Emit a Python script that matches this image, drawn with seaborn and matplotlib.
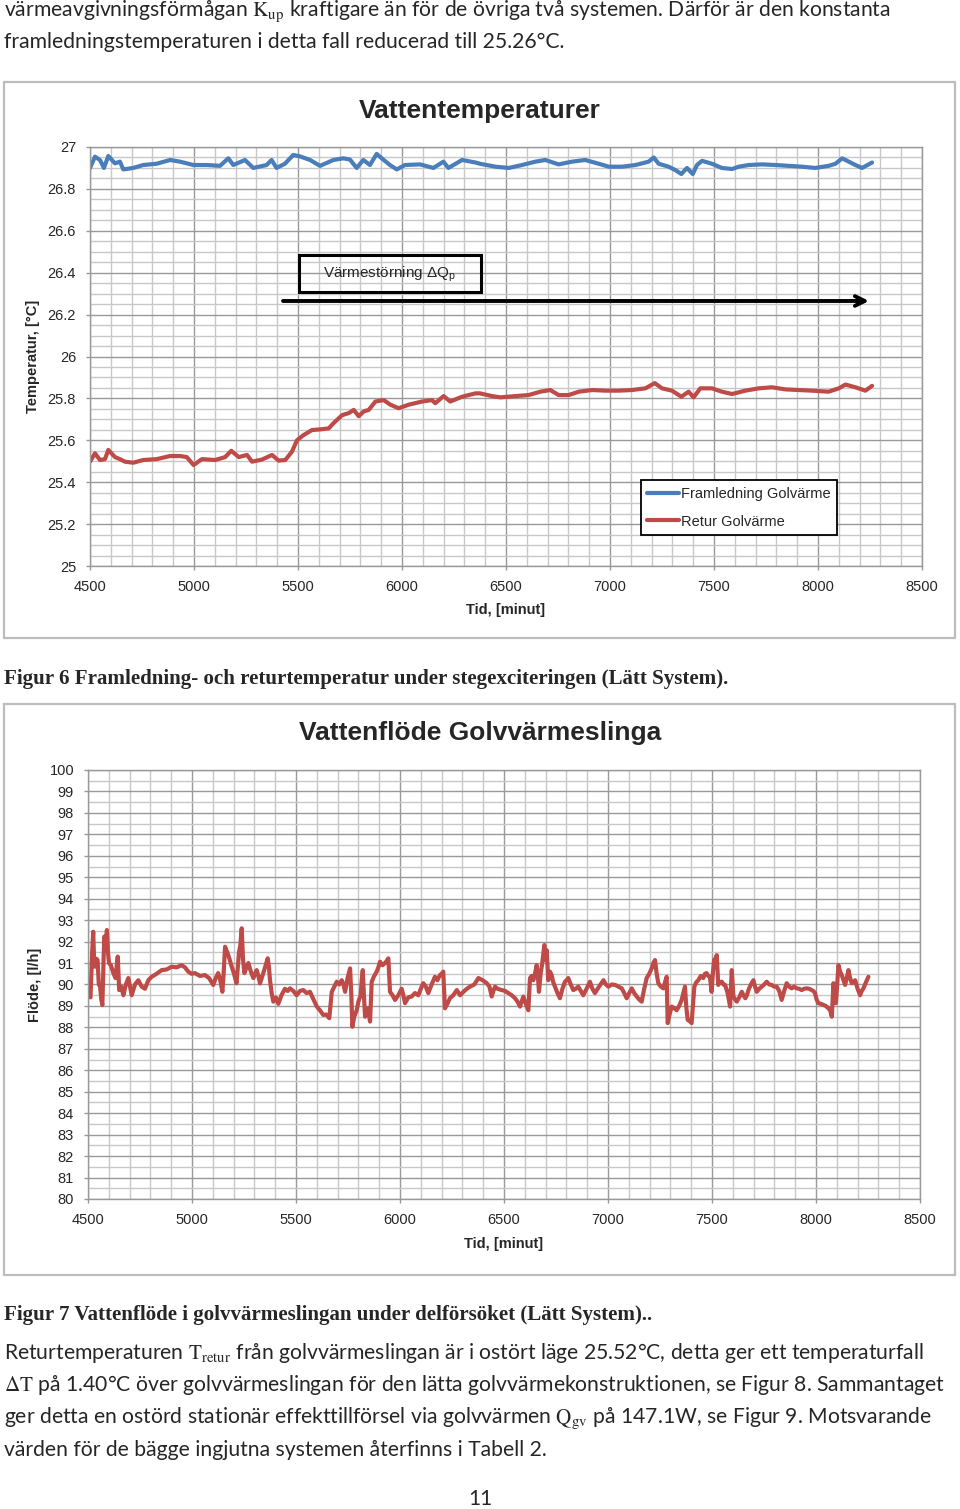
import pandas as pd
import matplotlib
matplotlib.use("Agg")
import matplotlib.pyplot as plt
import matplotlib.patches as patches
from matplotlib.ticker import MultipleLocator, FuncFormatter
import seaborn as sns

# Style
sns.set_style("white")
plt.rcParams['font.family'] = ['Liberation Sans', 'DejaVu Sans']
plt.rcParams['mathtext.fontset'] = 'stix'

# --- Data: Vattentemperaturer ---
supply_t = [4500, 4524, 4548, 4567, 4588, 4620, 4644, 4660, 4708, 4756, 4820, 4885,
            4933, 4997, 5061, 5125, 5165, 5189, 5245, 5285, 5349, 5373, 5397, 5437,
            5477, 5510, 5558, 5606, 5670, 5718, 5750, 5782, 5814, 5846, 5878, 5910,
            5942, 5975, 6014, 6087, 6151, 6199, 6223, 6289, 6353, 6375, 6449, 6513,
            6577, 6641, 6689, 6753, 6817, 6881, 6946, 6994, 7058, 7122, 7186, 7210,
            7234, 7282, 7314, 7343, 7370, 7398, 7418, 7443, 7490, 7538, 7587, 7619,
            7667, 7731, 7795, 7859, 7923, 7987, 8051, 8084, 8116, 8148, 8180, 8212, 8260]
supply_v = [26.90, 26.954, 26.938, 26.90, 26.957, 26.922, 26.93, 26.893, 26.90, 26.914,
            26.92, 26.938, 26.93, 26.914, 26.914, 26.91, 26.946, 26.914, 26.938, 26.90,
            26.914, 26.938, 26.90, 26.92, 26.962, 26.955, 26.938, 26.91, 26.938, 26.946,
            26.94, 26.90, 26.938, 26.914, 26.967, 26.94, 26.914, 26.893, 26.914, 26.917,
            26.90, 26.93, 26.90, 26.938, 26.926, 26.92, 26.906, 26.90, 26.914, 26.93,
            26.938, 26.917, 26.93, 26.938, 26.92, 26.906, 26.906, 26.914, 26.93, 26.95,
            26.92, 26.906, 26.89, 26.871, 26.90, 26.871, 26.914, 26.934, 26.92, 26.90,
            26.895, 26.906, 26.914, 26.917, 26.914, 26.91, 26.906, 26.90, 26.91, 26.92,
            26.946, 26.93, 26.914, 26.90, 26.926]

return_t = [4500, 4524, 4548, 4572, 4588, 4620, 4644, 4668, 4708, 4756, 4820, 4885,
            4933, 4965, 4998, 5038, 5102, 5150, 5179, 5215, 5255, 5279, 5327, 5375,
            5407, 5439, 5471, 5495, 5527, 5567, 5606, 5648, 5670, 5712, 5744, 5768,
            5792, 5816, 5840, 5872, 5912, 5944, 5984, 6032, 6096, 6144, 6160, 6200,
            6232, 6289, 6353, 6375, 6433, 6473, 6545, 6609, 6665, 6713, 6753, 6801,
            6850, 6914, 6978, 7042, 7106, 7170, 7215, 7250, 7298, 7343, 7378, 7402,
            7434, 7490, 7538, 7587, 7651, 7715, 7779, 7843, 7907, 7971, 8051, 8100,
            8132, 8180, 8228, 8260]
return_v = [25.498, 25.538, 25.506, 25.51, 25.554, 25.52, 25.51, 25.498, 25.493, 25.506,
            25.51, 25.525, 25.525, 25.52, 25.482, 25.51, 25.506, 25.52, 25.55, 25.52,
            25.53, 25.498, 25.508, 25.53, 25.503, 25.506, 25.546, 25.60, 25.625, 25.649,
            25.652, 25.657, 25.681, 25.72, 25.73, 25.745, 25.715, 25.738, 25.745, 25.785,
            25.792, 25.77, 25.753, 25.77, 25.785, 25.792, 25.777, 25.811, 25.785, 25.808,
            25.824, 25.824, 25.811, 25.805, 25.811, 25.816, 25.832, 25.84, 25.816, 25.816,
            25.832, 25.84, 25.837, 25.837, 25.84, 25.848, 25.873, 25.848, 25.837, 25.808,
            25.832, 25.805, 25.848, 25.848, 25.832, 25.821, 25.837, 25.848, 25.853, 25.843,
            25.84, 25.837, 25.832, 25.848, 25.866, 25.853, 25.837, 25.86]

temp_ticks = [25, 25.2, 25.4, 25.6, 25.8, 26, 26.2, 26.4, 26.6, 26.8, 27]
tid_ticks = [4500, 5000, 5500, 6000, 6500, 7000, 7500, 8000, 8500]

# --- Data: Vattenflöde Golvvärmeslinga ---
flow_t = [4505, 4512, 4520, 4525, 4530, 4533, 4540, 4546, 4552, 4558, 4564, 4569, 4574,
          4578, 4585, 4591, 4596, 4601, 4610, 4622, 4632, 4643, 4650, 4660, 4670, 4682,
          4694, 4702, 4710, 4726, 4742, 4758, 4774, 4790, 4806, 4830, 4854, 4878, 4902,
          4926, 4950, 4966, 4982, 4998, 5014, 5038, 5062, 5082, 5102, 5114, 5126, 5136,
          5146, 5152, 5159, 5165, 5170, 5180, 5191, 5202, 5214, 5220, 5226, 5232, 5239,
          5245, 5252, 5262, 5271, 5283, 5295, 5303, 5311, 5319, 5327, 5345, 5364, 5370,
          5375, 5383, 5391, 5403, 5415, 5430, 5447, 5460, 5471, 5487, 5503, 5519, 5535,
          5551, 5567, 5584, 5600, 5615, 5631, 5645, 5660, 5672, 5684, 5696, 5708, 5720,
          5728, 5736, 5748, 5760, 5766, 5771, 5780, 5792, 5800, 5811, 5816, 5821, 5826,
          5832, 5840, 5848, 5852, 5856, 5864, 5876, 5888, 5896, 5904, 5916, 5928, 5936,
          5944, 5952, 5964, 5976, 5992, 6008, 6016, 6024, 6040, 6056, 6072, 6088, 6100,
          6112, 6124, 6136, 6152, 6168, 6180, 6192, 6200, 6208, 6216, 6228, 6240, 6256,
          6273, 6289, 6305, 6321, 6337, 6357, 6377, 6397, 6417, 6430, 6441, 6449, 6457,
          6469, 6489, 6505, 6521, 6537, 6553, 6565, 6577, 6585, 6593, 6605, 6617, 6625,
          6633, 6641, 6649, 6657, 6663, 6668, 6676, 6684, 6694, 6697, 6705, 6713, 6721,
          6729, 6737, 6745, 6757, 6769, 6781, 6793, 6801, 6809, 6821, 6833, 6845, 6857,
          6869, 6881, 6897, 6913, 6925, 6937, 6957, 6978, 6990, 7002, 7018, 7034, 7050,
          7066, 7078, 7090, 7102, 7114, 7126, 7138, 7150, 7162, 7174, 7186, 7198, 7210,
          7218, 7226, 7234, 7242, 7254, 7266, 7274, 7282, 7287, 7296, 7306, 7318, 7330,
          7342, 7354, 7362, 7370, 7376, 7383, 7392, 7402, 7408, 7415, 7424, 7434, 7446,
          7458, 7466, 7474, 7482, 7490, 7498, 7504, 7510, 7516, 7523, 7530, 7538, 7547,
          7555, 7563, 7575, 7587, 7595, 7603, 7611, 7619, 7631, 7643, 7651, 7660, 7668,
          7675, 7687, 7699, 7707, 7715, 7727, 7739, 7751, 7763, 7775, 7787, 7799, 7811,
          7823, 7835, 7847, 7859, 7871, 7883, 7895, 7907, 7919, 7931, 7943, 7955, 7967,
          7979, 7987, 7995, 8003, 8011, 8023, 8035, 8047, 8059, 8068, 8076, 8084, 8090,
          8096, 8102, 8108, 8116, 8124, 8132, 8140, 8148, 8156, 8164, 8172, 8180, 8188,
          8200, 8212, 8220, 8228, 8240, 8252]
flow_v = [89.5, 89.4, 91.5, 92.46, 90.9, 90.83, 91.2, 91.14, 90.0, 89.9, 89.3, 89.04, 90.8,
          92.23, 92.0, 92.54, 91.5, 91.0, 90.9, 90.53, 90.3, 91.3, 89.74, 89.9, 89.5, 90.0,
          90.3, 89.9, 89.5, 90.0, 90.2, 89.9, 89.8, 90.2, 90.36, 90.5, 90.67, 90.7, 90.83,
          90.8, 90.9, 90.8, 90.6, 90.5, 90.53, 90.4, 90.44, 90.3, 89.98, 90.3, 90.53, 90.2,
          89.66, 90.5, 91.76, 91.6, 91.5, 91.2, 90.83, 90.5, 90.06, 90.8, 91.5, 91.8, 92.62,
          91.2, 90.53, 90.8, 91.0, 90.6, 90.3, 90.5, 90.67, 90.4, 90.05, 90.6, 91.22, 90.8,
          90.2, 89.6, 89.2, 89.4, 89.1, 89.5, 89.8, 89.7, 89.82, 89.7, 89.5, 89.7, 89.74,
          89.6, 89.66, 89.3, 88.97, 88.8, 88.58, 88.6, 88.43, 89.66, 89.9, 90.13, 90.0, 90.2,
          90.0, 89.66, 90.3, 90.75, 89.5, 88.03, 88.5, 88.8, 89.2, 89.5, 90.2, 90.67, 89.6,
          88.5, 88.7, 88.9, 88.5, 88.27, 90.13, 90.4, 90.6, 90.8, 91.06, 90.9, 91.0, 91.1,
          91.22, 89.66, 89.5, 89.28, 89.5, 89.8, 89.5, 89.13, 89.4, 89.44, 89.6, 89.5, 89.8,
          90.06, 89.9, 89.6, 90.0, 90.36, 90.2, 90.44, 90.5, 90.6, 88.89, 89.1, 89.36, 89.5,
          89.74, 89.5, 89.66, 89.8, 89.9, 90.0, 90.3, 90.2, 90.06, 89.9, 89.44, 89.7, 89.9,
          89.8, 89.74, 89.7, 89.6, 89.5, 89.36, 89.2, 88.97, 89.2, 89.44, 89.1, 88.8, 90.3,
          90.4, 90.2, 90.5, 90.9, 90.4, 89.66, 90.5, 91.0, 91.84, 91.14, 91.6, 90.2, 90.6,
          90.44, 90.1, 89.9, 89.6, 89.36, 89.8, 90.13, 90.2, 90.3, 90.0, 89.74, 89.8, 89.9,
          89.7, 89.5, 89.8, 90.13, 89.8, 89.6, 89.9, 90.2, 90.0, 89.9, 90.0, 89.98, 89.9,
          89.82, 89.6, 89.36, 89.6, 89.82, 89.6, 89.44, 89.3, 89.2, 89.8, 90.3, 90.5, 90.75,
          91.0, 91.14, 90.5, 90.06, 89.9, 89.82, 90.1, 90.36, 88.2, 88.6, 88.97, 88.9, 88.8,
          89.0, 89.28, 89.6, 89.9, 89.0, 88.35, 88.3, 88.2, 89.0, 89.9, 90.1, 90.2, 90.4,
          90.3, 90.5, 90.53, 90.4, 90.36, 89.66, 90.5, 91.14, 91.2, 91.37, 89.98, 90.1, 90.13,
          90.0, 89.98, 89.6, 88.97, 90.67, 89.44, 89.3, 89.2, 89.4, 89.66, 89.5, 89.36, 89.5,
          89.74, 90.0, 90.2, 89.9, 89.66, 89.8, 89.9, 90.0, 90.13, 90.0, 89.98, 89.9, 89.9,
          89.7, 89.28, 89.7, 90.06, 89.9, 89.82, 89.9, 89.82, 89.8, 89.74, 89.8, 89.82, 89.8,
          89.74, 89.7, 89.6, 89.3, 89.13, 89.1, 89.05, 89.0, 88.9, 88.8, 88.5, 90.06, 89.5,
          89.13, 90.0, 90.9, 90.6, 90.44, 90.2, 89.98, 90.3, 90.67, 90.3, 90.06, 90.1, 90.2,
          89.8, 89.5, 89.7, 89.82, 90.1, 90.36]

flow_ticks = list(range(80, 101))

blue = '#4A7EBB'
red = '#BE4B48'
W, H = 960, 1509


def fx(px):
    return px / W


def fy(py):
    return 1 - py / H


def style_axes(ax):
    ax.set_xlim(4500, 8500)
    ax.set_xticks(tid_ticks)
    ax.xaxis.set_minor_locator(MultipleLocator(100))
    ax.grid(which='minor', color='#c8c8c8', lw=1.0)
    ax.grid(which='major', color='#999999', lw=1.0)
    ax.set_axisbelow(True)
    for s in ax.spines.values():
        s.set_color('#999999')
        s.set_linewidth(1.0)
    ax.tick_params(which='major', length=3, color='#999999', width=1,
                   labelsize=10.5, pad=7, left=True, bottom=True)
    ax.tick_params(which='minor', length=0)
    ax.yaxis.set_major_formatter(FuncFormatter(lambda v, p: '%g' % v))


fig = plt.figure(figsize=(9.6, 15.09), dpi=100)

# Chart frames
for top, bot in [(82, 638), (704, 1275)]:
    fig.add_artist(patches.Rectangle((fx(4), fy(bot)), 951 / W, (bot - top) / H,
                                     transform=fig.transFigure, fill=False,
                                     ec='#bdbdbd', lw=1.6))

# 1. Vattentemperaturer
ax1 = fig.add_axes([fx(90), fy(566), 832 / W, 419 / H])
df_temp = pd.concat([
    pd.DataFrame({'tid': supply_t, 'temp': supply_v, 'serie': 'Framledning Golvärme'}),
    pd.DataFrame({'tid': return_t, 'temp': return_v, 'serie': 'Retur Golvärme'}),
])
sns.lineplot(data=df_temp, x='tid', y='temp', hue='serie', palette=[blue, red],
             linewidth=3.0, ax=ax1)
style_axes(ax1)
ax1.set_ylim(25, 27)
ax1.set_yticks(temp_ticks)
ax1.yaxis.set_minor_locator(MultipleLocator(0.05))
ax1.set_xlabel('Tid, [minut]', fontsize=10.5, fontweight='bold')
ax1.set_ylabel('Temperatur, [°C]', fontsize=10.5, fontweight='bold')
ax1.xaxis.set_label_coords(0.5, -0.088)
ax1.yaxis.set_label_coords(-0.060, 0.5)

leg = ax1.legend(loc='upper left', bbox_to_anchor=(0.662, 0.205), frameon=True,
                 fancybox=False, edgecolor='black', framealpha=1, fontsize=10.5,
                 handlelength=2.2, handletextpad=0.1, borderpad=0.45, labelspacing=0.95,
                 borderaxespad=0)
leg.get_frame().set_linewidth(1.3)
for line in leg.get_lines():
    line.set_linewidth(3.0)

# Värmestörning box + arrow
ax1.add_patch(patches.Rectangle((5505, 26.308), 875, 0.176, fill=False,
                                ec='black', lw=2.2, zorder=5))
ax1.text(5942, 26.392, 'Värmestörning $\\mathregular{\\Delta Q_p}$', ha='center',
         va='center', fontsize=11, zorder=6)
ax1.annotate('', xy=(8245, 26.265), xytext=(5428, 26.265),
             arrowprops=dict(arrowstyle='->,head_length=0.7,head_width=0.35',
                             lw=2.8, color='black', shrinkA=0, shrinkB=0))

fig.text(0.5, fy(111), 'Vattentemperaturer', ha='center', va='center',
         fontsize=19, fontweight='bold')

# 2. Vattenflöde Golvvärmeslinga
ax2 = fig.add_axes([fx(88), fy(1199), 832 / W, 429 / H])
df_flow = pd.DataFrame({'tid': flow_t, 'flode': flow_v})
sns.lineplot(data=df_flow, x='tid', y='flode', color=red, linewidth=3.0, ax=ax2)
style_axes(ax2)
ax2.set_ylim(80, 100)
ax2.set_yticks(flow_ticks)
ax2.yaxis.set_minor_locator(MultipleLocator(0.5))
ax2.set_xlabel('Tid, [minut]', fontsize=10.5, fontweight='bold')
ax2.set_ylabel('Flöde, [l/h]', fontsize=10.5, fontweight='bold')
ax2.xaxis.set_label_coords(0.5, -0.088)
ax2.yaxis.set_label_coords(-0.055, 0.5)

fig.text(0.5, fy(733), 'Vattenflöde Golvvärmeslinga', ha='center', va='center',
         fontsize=19, fontweight='bold')

# Document text around the figures
body = dict(fontsize=15.2, family=['Lato', 'DejaVu Sans'], va='center', ha='left')
fig.text(fx(4), fy(11), 'värmeavgivningsförmågan $\\mathrm{K_{up}}$ kraftigare än för de '
         'övriga två systemen. Därför är den konstanta', **body)
fig.text(fx(4), fy(42), 'framledningstemperaturen i detta fall reducerad till 25.26°C.', **body)

cap = dict(fontsize=15.1, family=['Liberation Serif', 'DejaVu Serif'], fontweight='bold',
           va='center', ha='left')
fig.text(fx(4), fy(679), 'Figur 6 Framledning- och returtemperatur under stegexciteringen '
         '(Lätt System).', **cap)
fig.text(fx(4), fy(1315), 'Figur 7 Vattenflöde i golvvärmeslingan under delförsöket '
         '(Lätt System)..', **cap)

fig.text(fx(4), fy(1353), 'Returtemperaturen $\\mathrm{T_{retur}}$ från golvvärmeslingan är '
         'i ostört läge 25.52°C, detta ger ett temperaturfall', **body)
fig.text(fx(4), fy(1385), '$\\Delta\\mathrm{T}$ på 1.40°C över golvvärmeslingan för den lätta '
         'golvvärmekonstruktionen, se Figur 8. Sammantaget', **body)
fig.text(fx(4), fy(1418), 'ger detta en ostörd stationär effekttillförsel via golvvärmen '
         '$\\mathrm{Q_{gv}}$ på 147.1W, se Figur 9. Motsvarande', **body)
fig.text(fx(4), fy(1450), 'värden för de bägge ingjutna systemen återfinns i Tabell 2.', **body)
fig.text(0.5, fy(1499), '11', ha='center', va='center', fontsize=15,
         family=['Lato', 'DejaVu Sans'])

plt.savefig('out.png', dpi=100)
